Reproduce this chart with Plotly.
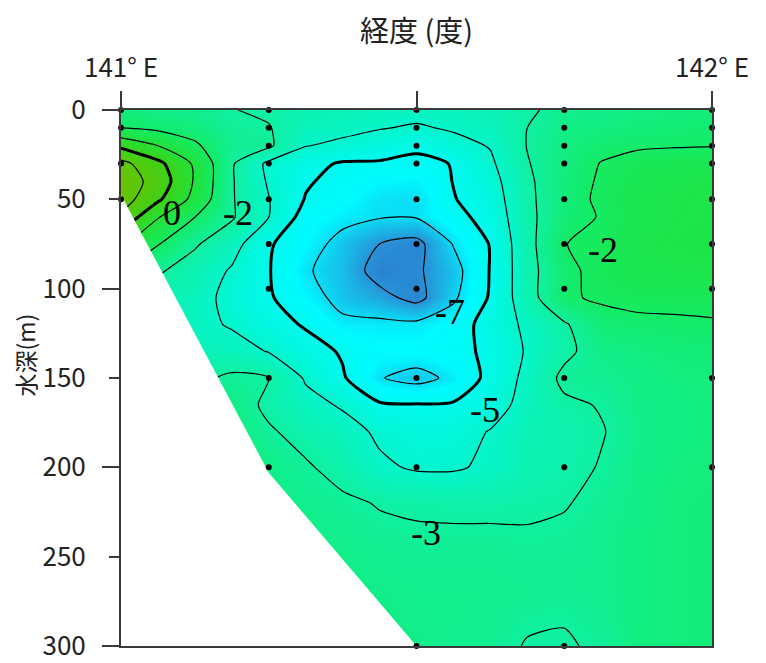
import plotly.graph_objects as go

# ---- data -------------------------------------------------------------
lons = [141.0, 141.0625, 141.125, 141.1875, 141.25, 141.3125, 141.375, 141.4375,
        141.5, 141.5625, 141.625, 141.6875, 141.75, 141.8125, 141.875, 141.9375, 142.0]
depths = [0, 10, 20, 30, 40, 50, 60, 75, 90, 105, 120, 135, 150, 165, 180, 200, 220, 240, 270, 300]

# values along each longitude (top to bottom, one per depth)
v_141_0000 = [-2.4, -2.0, -0.2, 1.3, 1.6, 1.5, 0.8, -0.8, -2.0, -3.0, -3.2, -3.2, -3.2, -3.2, -3.2, -3.2, -3.2, -3.2, -3.2, -3.2]
v_141_0625 = [-2.6, -2.2, -1.0, 0.25, 0.6, 0.15, -0.95, -1.95, -2.9, -3.4, -3.6, -3.5, -3.3, -3.2, -3.2, -3.2, -3.2, -3.2, -3.2, -3.2]
v_141_1250 = [-2.7, -2.4, -1.85, -1.15, -1.1, -1.3, -2.0, -2.9, -3.4, -3.6, -3.7, -3.5, -3.2, -3.0, -3.0, -3.0, -3.0, -3.0, -3.0, -3.0]
v_141_1875 = [-2.97, -2.85, -2.75, -2.9, -2.92, -2.92, -2.9, -3.6, -4.1, -4.3, -4.1, -3.6, -2.85, -2.5, -2.4, -2.3, -2.3, -2.3, -2.3, -2.3]
v_141_2500 = [-3.15, -2.95, -2.85, -4.2, -4.1, -3.97, -4.0, -4.9, -4.95, -4.9, -4.6, -4.05, -3.0, -3.2, -2.9, -2.6, -2.5, -2.5, -2.5, -2.5]
v_141_3125 = [-3.4, -3.6, -3.97, -4.7, -4.9, -5.05, -5.4, -5.6, -5.9, -5.6, -5.1, -4.6, -4.1, -3.7, -3.3, -2.9, -2.7, -2.6, -2.6, -2.6]
v_141_3750 = [-3.5, -3.75, -4.2, -5.1, -5.3, -5.5, -5.75, -6.3, -6.4, -6.3, -5.8, -5.1, -4.9, -4.1, -3.65, -3.3, -2.85, -2.65, -2.6, -2.6]
v_141_4375 = [-3.6, -3.95, -4.5, -5.1, -5.6, -5.9, -5.95, -7.0, -7.4, -6.7, -5.8, -5.5, -5.95, -4.9, -4.15, -3.85, -3.05, -2.8, -2.6, -2.6]
v_141_5000 = [-3.7, -4.1, -4.75, -5.3, -5.7, -5.95, -5.95, -7.3, -7.15, -7.3, -5.8, -5.5, -6.3, -4.95, -4.5, -4.1, -3.15, -2.85, -2.7, -2.6]
v_141_5625 = [-3.6, -3.9, -4.3, -4.95, -4.97, -5.05, -5.3, -5.95, -6.35, -6.15, -5.5, -5.3, -5.8, -4.9, -4.4, -4.1, -3.2, -2.85, -2.7, -2.7]
v_141_6250 = [-3.5, -3.65, -3.95, -4.15, -4.35, -4.5, -4.65, -4.95, -4.95, -4.9, -4.6, -4.8, -4.7, -4.5, -3.95, -3.85, -3.2, -2.85, -2.7, -2.75]
v_141_6875 = [-3.15, -3.0, -2.97, -3.05, -3.15, -3.2, -3.25, -3.3, -3.35, -3.4, -3.8, -3.9, -3.75, -3.6, -3.5, -3.4, -3.15, -2.9, -2.75, -3.05]
v_141_7500 = [-2.7, -2.6, -2.5, -2.45, -2.4, -2.35, -2.3, -2.02, -2.2, -2.1, -3.1, -3.2, -2.8, -3.15, -3.3, -3.25, -3.05, -2.85, -2.8, -3.1]
v_141_8125 = [-2.6, -2.45, -2.2, -1.97, -1.9, -1.85, -1.95, -1.8, -1.75, -1.9, -2.3, -2.6, -2.8, -2.95, -3.05, -2.95, -2.8, -2.7, -2.7, -2.85]
v_141_8750 = [-2.5, -2.35, -2.1, -1.7, -1.6, -1.55, -1.55, -1.5, -1.55, -1.75, -2.2, -2.45, -2.55, -2.6, -2.65, -2.6, -2.55, -2.5, -2.5, -2.5]
v_141_9375 = [-2.4, -2.3, -2.05, -1.6, -1.5, -1.45, -1.45, -1.4, -1.5, -1.75, -2.15, -2.35, -2.45, -2.5, -2.5, -2.45, -2.4, -2.4, -2.4, -2.4]
v_142_0000 = [-2.35, -2.2, -2.02, -1.6, -1.45, -1.4, -1.4, -1.35, -1.45, -1.7, -2.1, -2.3, -2.4, -2.45, -2.45, -2.4, -2.35, -2.35, -2.35, -2.35]

columns = [v_141_0000, v_141_0625, v_141_1250, v_141_1875, v_141_2500, v_141_3125,
           v_141_3750, v_141_4375, v_141_5000, v_141_5625, v_141_6250, v_141_6875,
           v_141_7500, v_141_8125, v_141_8750, v_141_9375, v_142_0000]
z = [[col[i] for col in columns] for i in range(len(depths))]

# contour levels
thin_levels = [-7, -6, -4, -3, -2, -1, 1]
bold_levels = [-5, 0]

# sampling stations
sta_lon = [141.0, 141.25, 141.5, 141.75, 142.0]
sta_depths = [
    [0, 10, 30, 50],
    [0, 10, 20, 30, 50, 75, 100, 150, 200],
    [0, 10, 20, 30, 50, 75, 100, 150, 200, 300],
    [0, 10, 20, 30, 50, 75, 100, 150, 200, 300],
    [0, 10, 20, 30, 50, 75, 100, 150, 200],
]

# sea floor
bottom_lon = [141.0, 141.25, 141.5]
bottom_depth = [47.5, 203, 300]

# contour labels
label_text = ["0", "-2", "-2", "-7", "-5", "-3"]
label_lon = [141.086, 141.198, 141.816, 141.557, 141.616, 141.516]
label_depth = [57.6, 57.6, 78.3, 113, 168, 236.6]

# tick labels
x_tickvals = [141.0, 141.5, 142.0]
x_ticktext = ["141° E", "", "142° E"]
y_tickvals = [0, 50, 100, 150, 200, 250, 300]
y_major = [0, 100, 200, 300]

# ---- figure -----------------------------------------------------------
cscale = [
    [0.00, "rgb(45,105,200)"],
    [0.10, "rgb(40,145,215)"],
    [0.17, "rgb(20,195,235)"],
    [0.24, "rgb(0,250,255)"],
    [0.30, "rgb(0,250,240)"],
    [0.40, "rgb(5,245,205)"],
    [0.50, "rgb(15,240,160)"],
    [0.60, "rgb(20,235,100)"],
    [0.70, "rgb(35,225,55)"],
    [0.80, "rgb(60,210,25)"],
    [0.90, "rgb(90,200,10)"],
    [1.00, "rgb(115,190,0)"],
]
black = [[0, "black"], [1, "black"]]

fig = go.Figure()
# colour field
fig.add_trace(go.Contour(
    x=lons, y=depths, z=z, zmin=-8, zmax=2, zauto=False,
    colorscale=cscale, showscale=False, autocontour=False,
    contours=dict(start=-7, end=1, size=1, coloring="heatmap"),
    line=dict(width=0), hoverinfo="skip",
))
# thin isolines, one trace per level
for lev in thin_levels:
    fig.add_trace(go.Contour(
        x=lons, y=depths, z=z, colorscale=black, showscale=False, autocontour=False,
        contours=dict(start=lev, end=lev, size=1, coloring="lines"),
        line=dict(width=1.2, smoothing=0.7), hoverinfo="skip",
    ))
# bold isolines
for lev in bold_levels:
    fig.add_trace(go.Contour(
        x=lons, y=depths, z=z, colorscale=black, showscale=False, autocontour=False,
        contours=dict(start=lev, end=lev, size=1, coloring="lines"),
        line=dict(width=3, smoothing=0.7), hoverinfo="skip",
    ))
# below the sea floor
fig.add_trace(go.Scatter(
    x=bottom_lon + [bottom_lon[0], bottom_lon[0]],
    y=bottom_depth + [bottom_depth[-1], bottom_depth[0]],
    fill="toself", fillcolor="white", mode="lines",
    line=dict(width=0, color="white"), hoverinfo="skip", showlegend=False,
))
# station dots
for lon, ds in zip(sta_lon, sta_depths):
    fig.add_trace(go.Scatter(
        x=[lon] * len(ds), y=ds, mode="markers",
        marker=dict(color="black", size=6), cliponaxis=False,
        hoverinfo="skip", showlegend=False,
    ))
# invisible trace for the long-tick overlay axis
fig.add_trace(go.Scatter(x=[141.0], y=[0], yaxis="y2", mode="markers",
                         marker=dict(opacity=0), hoverinfo="skip", showlegend=False))

for t, lo, de in zip(label_text, label_lon, label_depth):
    fig.add_annotation(x=lo, y=de, xref="x", yref="y", text=t, showarrow=False,
                       font=dict(family="Liberation Serif", size=36, color="black"))

fig.add_annotation(x=-0.163, y=0.543, xref="paper", yref="paper", text="水深(m)",
                   textangle=-90, showarrow=False, xanchor="center", yanchor="middle",
                   font=dict(family="Noto Sans CJK JP", size=23, color="#222"))

axis_col = "#3a3a3a"
fig.update_layout(
    template="none",
    width=766, height=663,
    margin=dict(l=113, r=62, t=102, b=25, autoexpand=False),
    paper_bgcolor="white", plot_bgcolor="white",
    showlegend=False,
    font=dict(family="Noto Sans CJK JP", color="#222"),
    xaxis=dict(
        side="top", range=[141.0, 142.0], tickvals=x_tickvals, ticktext=x_ticktext,
        ticks="outside", ticklen=17, tickwidth=2, tickcolor=axis_col,
        showline=True, linecolor=axis_col, linewidth=2, mirror=True,
        showgrid=False, zeroline=False, tickfont=dict(size=26),
        ticklabelstandoff=4, automargin=False,
        title=dict(text="経度 (度)", font=dict(size=29), standoff=9),
    ),
    yaxis=dict(
        range=[300, 0], tickvals=y_tickvals, ticks="outside", ticklen=10,
        tickwidth=2, tickcolor=axis_col, showline=True, linecolor=axis_col,
        linewidth=2, mirror=True, showgrid=False, zeroline=False,
        tickfont=dict(size=26), ticklabelstandoff=18, automargin=False,
    ),
    yaxis2=dict(
        overlaying="y", side="left", range=[300, 0], tickvals=y_major,
        ticks="outside", ticklen=18, tickwidth=2, tickcolor=axis_col,
        showticklabels=False, showgrid=False, zeroline=False, showline=False,
        automargin=False,
    ),
)

fig.write_html("out.html")
